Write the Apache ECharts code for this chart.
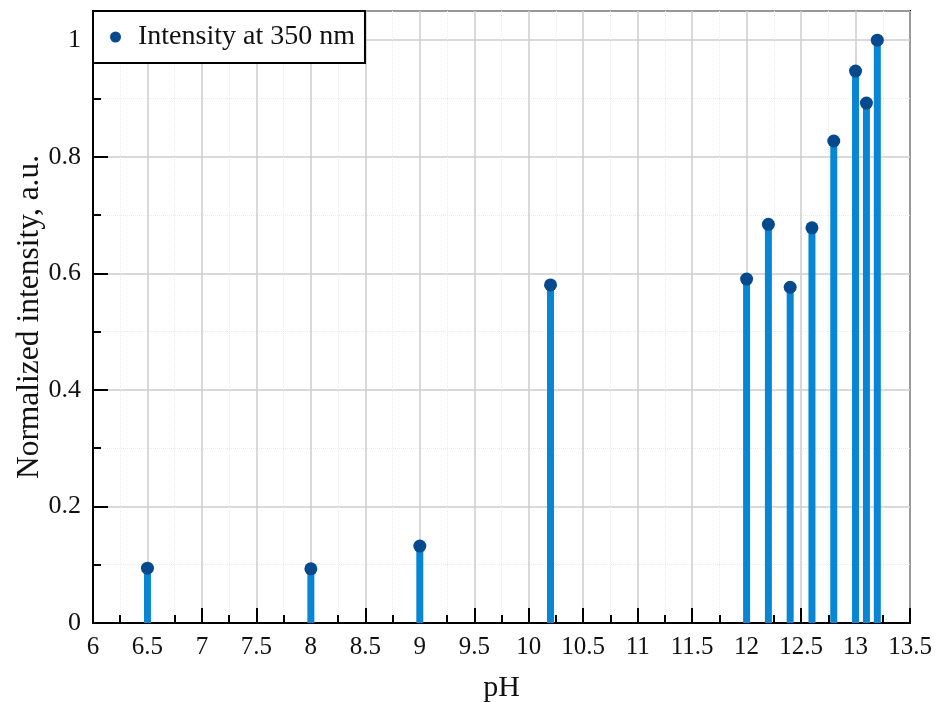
<!DOCTYPE html>
<html>
<head>
<meta charset="utf-8">
<script src="https://cdn.jsdelivr.net/npm/echarts@6/dist/echarts.min.js"></script>
<style>
  html, body { margin: 0; padding: 0; background: #fff; }
  #chart { width: 936px; height: 702px; }
</style>
</head>
<body>
<div id="chart"></div>
<script>
// pH of each sample and the normalized emission intensity at 350 nm
const phValues = [6.5, 8, 9, 10.2, 12, 12.2, 12.4, 12.6, 12.8, 13, 13.1, 13.2];
const intensity = [0.094, 0.093, 0.132, 0.580, 0.590, 0.684, 0.576, 0.678, 0.827, 0.947, 0.892, 1.0];
const seriesName = 'Intensity at 350 nm';

const points = phValues.map((x, i) => [x, intensity[i]]);

const serif = '"Liberation Serif", "Times New Roman", serif';
const stemColor = '#0886d3';
const dotColor = '#06498c';

const chart = echarts.init(document.getElementById('chart'), null, { renderer: 'canvas' });

chart.setOption({
  animation: false,
  backgroundColor: '#fff',
  grid: {
    left: 93, right: 26, top: 11, bottom: 79,
    containLabel: false,
    outerBoundsMode: 'none',
    show: true, borderColor: '#000', borderWidth: 2, backgroundColor: 'transparent'
  },
  legend: {
    data: [seriesName],
    left: 93, top: 11,
    orient: 'vertical',
    backgroundColor: '#fff',
    borderColor: '#000', borderWidth: 2, borderRadius: 0,
    padding: [12, 10, 12, 17],
    itemWidth: 11, itemHeight: 11, itemGap: 0,
    icon: 'circle',
    textStyle: { fontFamily: serif, fontSize: 28, color: '#111', padding: [0, 0, 0, 12] }
  },
  xAxis: {
    type: 'value',
    min: 6, max: 13.5, interval: 0.5,
    name: 'pH', nameLocation: 'middle', nameGap: 50,
    nameMoveOverlap: false,
    nameTextStyle: { fontFamily: serif, fontSize: 30, color: '#111' },
    axisLine: { show: true, onZero: false, lineStyle: { color: '#000', width: 2 } },
    axisTick: { show: true, inside: true, length: 15, lineStyle: { color: '#000', width: 2 } },
    minorTick: { show: true, splitNumber: 2, length: 8, lineStyle: { color: '#000', width: 2 } },
    axisLabel: { fontFamily: serif, fontSize: 25, color: '#111', margin: 12 },
    splitLine: { show: true, lineStyle: { color: '#cccccc', width: 1.5 } },
    minorSplitLine: { show: true, lineStyle: { color: '#ebebeb', width: 1, type: 'dotted' } }
  },
  yAxis: {
    type: 'value',
    min: 0, max: 1.05, interval: 0.2,
    name: 'Normalized intensity, a.u.', nameLocation: 'middle', nameGap: 47,
    nameMoveOverlap: false,
    nameTextStyle: { fontFamily: serif, fontSize: 31.5, color: '#111' },
    axisLine: { show: true, onZero: false, lineStyle: { color: '#000', width: 2 } },
    axisTick: { show: true, inside: true, length: 15, lineStyle: { color: '#000', width: 2 } },
    minorTick: { show: true, splitNumber: 2, length: 8, lineStyle: { color: '#000', width: 2 } },
    axisLabel: { fontFamily: serif, fontSize: 26, color: '#111', margin: 12, showMaxLabel: false },
    splitLine: { show: true, lineStyle: { color: '#cccccc', width: 1.5 } },
    minorSplitLine: { show: true, lineStyle: { color: '#ebebeb', width: 1, type: 'dotted' } }
  },
  series: [
    {
      name: 'stems',
      type: 'bar',
      data: points,
      barWidth: 7,
      itemStyle: { color: stemColor },
      z: 2,
      silent: true
    },
    {
      name: seriesName,
      type: 'scatter',
      data: points,
      symbol: 'circle',
      symbolSize: 13,
      itemStyle: { color: dotColor, opacity: 1 },
      z: 3
    }
  ]
});
</script>
</body>
</html>
